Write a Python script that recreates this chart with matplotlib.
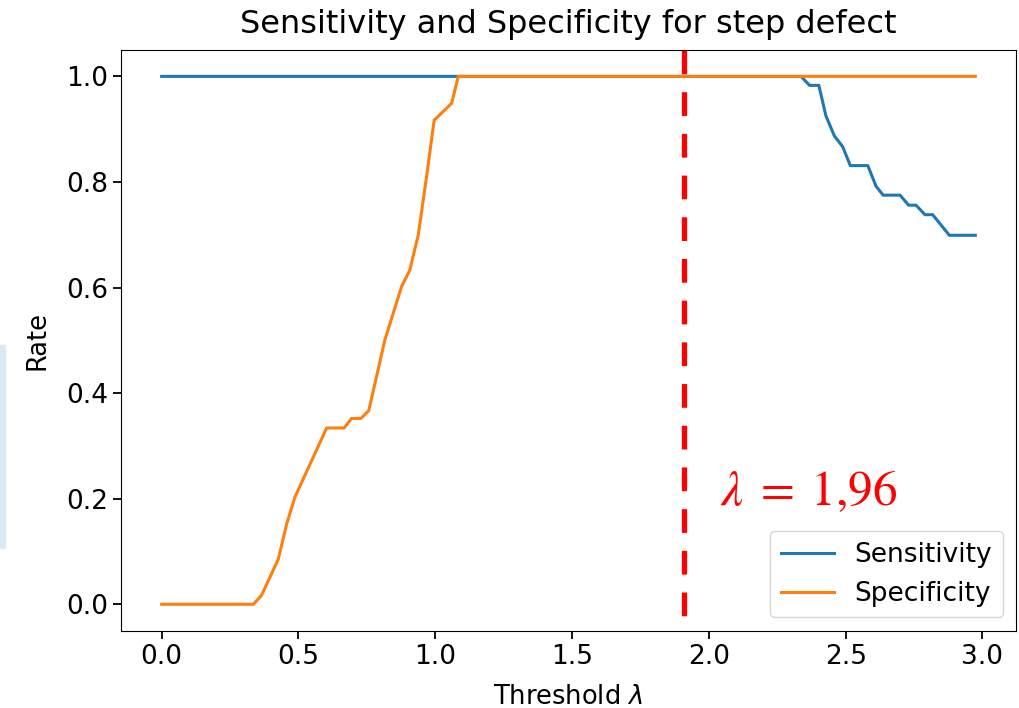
import matplotlib
matplotlib.use('Agg')
from matplotlib import pyplot as plt
from matplotlib.patches import Rectangle

# breakpoints
sens_x = [0.0, 2.337, 2.368, 2.402, 2.428, 2.459, 2.489, 2.517, 2.581, 2.611,
          2.637, 2.699, 2.730, 2.757, 2.790, 2.818, 2.879, 2.974]
sens_y = [1.0, 1.0, 0.983, 0.983, 0.925, 0.887, 0.867, 0.831, 0.831, 0.792,
          0.775, 0.775, 0.756, 0.756, 0.738, 0.738, 0.699, 0.699]

spec_x = [0.0, 0.335, 0.365, 0.426, 0.457, 0.487, 0.603, 0.667, 0.694, 0.728,
          0.757, 0.816, 0.877, 0.907, 0.938, 0.968, 0.996, 1.060, 1.084, 2.974]
spec_y = [0.0, 0.0, 0.017, 0.085, 0.152, 0.203, 0.334, 0.334, 0.352, 0.352,
          0.367, 0.501, 0.602, 0.633, 0.700, 0.809, 0.917, 0.949, 1.0, 1.0]

lam = 1.91
lam_label = r'$\lambda\;=\;1{,}96$'

fig = plt.figure(figsize=(10.2, 7.08), dpi=100)
ax = fig.add_axes([0.1186, 0.1092, 0.9961 - 0.1186, 0.9294 - 0.1092])

ax.plot(sens_x, sens_y, color='#1f77b4', lw=2.2, label='Sensitivity')
ax.plot(spec_x, spec_y, color='#ff7f0e', lw=2.2, label='Specificity')
ax.axvline(lam, ymin=1, ymax=0, color='red', lw=3.8, linestyle=(0, (4.5, 3.4)))
ax.text(2.04, 0.188, lam_label, color='red', fontsize=35.5, math_fontfamily='stix')

ax.set_title('Sensitivity and Specificity for step defect', fontsize=23, pad=12)
ax.set_xlabel(r'Threshold $\lambda$', fontsize=18.5, labelpad=10)
ax.set_ylabel('Rate', fontsize=18.5, labelpad=11)
ax.tick_params(labelsize=19, length=6, width=1.3)
ax.legend(loc='lower right', fontsize=19)

# light blue strip at the left edge of the screenshot
fig.patches.append(Rectangle((0, 1 - 548 / 708), 5 / 1020, 203 / 708,
                             transform=fig.transFigure, color='#dde8f5', zorder=0))

fig.savefig('out.png', dpi=100)
